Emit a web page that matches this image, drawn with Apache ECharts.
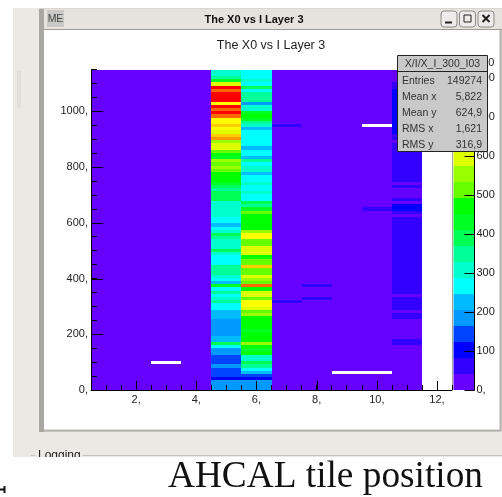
<!DOCTYPE html>
<html><head><meta charset="utf-8">
<style>html,body{margin:0;padding:0;background:#fff}#c{width:502px;height:497px}</style>
<script src="https://cdn.jsdelivr.net/npm/echarts@6/dist/echarts.min.js"></script>
</head><body><div id="c"></div>
<script>
// Histogram rows run from the top of the axis (row 0) to the bottom (row 99).
const rowCount = 100;
const yMax = 1150;
const rowHeight = 11.5;
const baseValue = 20;
const column5 = [310,310,350,430,595, 800,760,800,800,800, 635,800,760,800,760, 635,635,675,635,595,
  675,720,555,595,595, 515,470,430,555,515, 555,515,470,470,470, 430,390,350,390,390,
  390,310,310,310,310, 310,265,265,225,265, 310,390,350,310,310, 310,390,310,265,265,
  265,350,350,350,310, 265,225,430,265,350, 265,310,350,265,265, 225,225,225,185,185,
  185,185,185,225,225, 390,265,185,185,145, 145,145,185,145,145, 145,100,185,185,185];
const column6 = [265,265,265,310,265, 390,265,350,350,350, 185,310,310,430,470, 430,350,310,225,265,
  265,265,265,265,225, 265,265,225,350,265, 310,310,225,265,265, 310,265,265,310,265,
  265,390,350,430,515, 470,470,470,470,470, 555,635,635,515,515, 595,595,595,470,515,
  515,675,515,515,595, 555,515,760,470,595, 595,515,635,635,595, 515,555,470,470,470,
  470,430,470,470,470, 555,470,430,470,310, 310,390,350,265,225, 145,100,185,185,185];
const column11 = [20,20,20,20,60, 60,100,100,100,100, 100,100,100,100,100, 100,100,100,100,100,
  60,60,20,60,60, 60,60,60,60,60, 60,60,60,60,60, 20,60,20,20,20,
  60,20,100,100,60, 20,60,60,60,60, 60,60,60,60,60, 60,60,60,60,60,
  60,60,60,60,60, 60,60,60,60,60, 20,60,60,60,60, 20,60,60,20,20,
  20,20,20,20,60, 60,20,20,20,20, 20,20,20,20,20, 20,20,20,20,20];
const fullColumns = {5: column5, 6: column6, 11: column11};
const faintCells = [[7,17,60],[7,72,60],[8,67,60],[8,71,60],[10,43,60]];
const emptyCells = [[3,91],[9,94],[10,94],[10,17]];
const filledColumns = [1,2,3,4,5,6,7,8,9,10,11];
const xMajorTicks = [2,4,6,8,10,12];
const yMajorTicks = [0,200,400,600,800,1000];
const bandWidth = 41;
const bandColors = ['#6600ff','#3300ff','#0000ff','#0044ff','#0099ff','#00bbff','#00ffff','#00ffcc','#00ff99','#00ff55',
  '#00ff22','#00ff00','#66ff00','#99ff00','#ddff00','#ffff00','#ffcc00','#ff9900','#ff6600','#ff0000'];
const statRows = [['Entries','149274'],['Mean x','5,822'],['Mean y','624,9'],['RMS x','1,621'],['RMS y','316,9']];

const cellData = [];
for (const col of filledColumns) {
  for (let r = 0; r < rowCount; r++) {
    if (emptyCells.some(c => c[0] === col && c[1] === r)) continue;
    const faint = faintCells.find(c => c[0] === col && c[1] === r);
    const v = fullColumns[col] ? fullColumns[col][r] : (faint ? faint[2] : baseValue);
    cellData.push([col, yMax - (r + 1) * rowHeight, yMax - r * rowHeight, v]);
  }
}
const bandData = bandColors.map((c, i) => [i, i * bandWidth, (i + 1) * bandWidth]);
const colorOf = v => bandColors[Math.min(bandColors.length - 1, Math.floor(v / bandWidth))];

function cellItem(params, api) {
  const a = api.coord([api.value(0) - 0.5, api.value(2)]);
  const b = api.coord([api.value(0) + 0.5, api.value(1)]);
  const x0 = Math.round(a[0]), x1 = Math.round(b[0]), y0 = Math.round(a[1]), y1 = Math.round(b[1]);
  return {type:'rect', shape:{x:x0, y:y0, width:x1-x0, height:y1-y0}, style:{fill:colorOf(api.value(3))}};
}
function bandItem(params, api) {
  const a = api.coord([0, api.value(2)]);
  const b = api.coord([1, api.value(1)]);
  const y0 = Math.round(a[1]), y1 = Math.round(b[1]);
  return {type:'rect', shape:{x:a[0], y:y0, width:b[0]-a[0], height:y1-y0}, style:{fill:bandColors[api.value(0)]}};
}
function xTickItem(params, api) {
  const p = api.coord([api.value(0), 0]);
  const x = Math.round(p[0]) + 0.5;
  return {type:'line', shape:{x1:x, y1:p[1], x2:x, y2:p[1]-9}, style:{stroke:'#000', lineWidth:1}};
}
function yTickItem(params, api) {
  const p = api.coord([0.5, api.value(0)]);
  const y = Math.round(p[1]) + 0.5;
  return {type:'line', shape:{x1:p[0], y1:y, x2:p[0]+12, y2:y}, style:{stroke:'#000', lineWidth:1}};
}

const sans = '"Liberation Sans", Arial, sans-serif';
const txt = (x, y, text, size, extra) => ({type:'text', z:extra && extra.z || 1, x, y, silent:true,
  style:Object.assign({text, font:(extra && extra.weight || 'normal')+' '+size+'px '+(extra && extra.family || sans),
    fill:extra && extra.fill || '#222', textAlign:extra && extra.align || 'left', textVerticalAlign:'middle'})});
const box = (x, y, w, h, fill, z, extra) => ({type:'rect', z:z, silent:true, shape:Object.assign({x, y, width:w, height:h}, extra && extra.r ? {r:extra.r} : {}),
  style:{fill, stroke:extra && extra.stroke || 'none', lineWidth:1}});
const seg = (x1, y1, x2, y2, stroke, z, w) => ({type:'line', z:z, silent:true, shape:{x1, y1, x2, y2}, style:{stroke, lineWidth:w || 1}});

const chrome = [
  box(13, 8, 489, 449, '#ece9e4', -10),
  box(39, 8, 463, 424, '#d9d6d1', -9),
  box(39, 9, 5, 423, '#a9a7a2', -8),
  box(44, 9, 458, 20, '#e6e3de', -8),
  seg(44, 29.5, 502, 29.5, '#9d9a95', -7),
  box(44, 30, 456, 400, '#ffffff', -7),
  seg(44, 430.5, 500, 430.5, '#b5b3ae', -6, 2),
  seg(500.5, 30, 500.5, 431, '#b5b3ae', -6, 2),
  box(47, 10, 17, 17, '#c9c9c7', -6),
  txt(55.5, 19, 'ME', 10.5, {z:-5, align:'center', fill:'#444'}),
  txt(254, 20, 'The X0 vs I Layer 3', 11, {z:-5, align:'center', weight:'bold', fill:'#111'}),
  txt(271, 45.5, 'The X0 vs I Layer 3', 12.5, {z:-5, align:'center'}),
  box(441, 11, 16, 16, '#eeeceb', -5, {stroke:'#8c8a86', r:3}),
  box(459.5, 11, 16, 16, '#eeeceb', -5, {stroke:'#8c8a86', r:3}),
  box(478, 11, 16, 16, '#eeeceb', -5, {stroke:'#8c8a86', r:3}),
  seg(445, 22.5, 452, 22.5, '#222', -4, 2),
  box(464, 15, 7, 7, 'none', -4, {stroke:'#222'}),
  seg(482.5, 15, 489.5, 22, '#222', -4, 2),
  seg(489.5, 15, 482.5, 22, '#222', -4, 2),
  box(17, 71, 4, 37, '#e0ded9', -6),
  seg(452.5, 69, 452.5, 390, '#a6a49f', 1, 1),
  txt(476, 63, '800', 11, {z:1, fill:'#222'}),
  seg(31, 455.5, 35, 455.5, '#c4c1bb', -5),
  seg(83, 455.5, 502, 455.5, '#c4c1bb', -5),
  txt(38, 456, 'Logging', 12, {z:-4}),
  box(0, 457, 502, 40, '#ffffff', 50),
  txt(168, 477, 'AHCAL tile position', 37.3, {z:51, family:'"Liberation Serif", "Times New Roman", serif', fill:'#111'}),
  seg(0, 489.5, 4, 489.5, '#111', 51, 2),
  seg(4.5, 486, 4.5, 493, '#111', 51, 2),
  box(397.5, 55.5, 90, 96, '#c9c9c9', 60, {stroke:'#222'}),
  seg(397.5, 71.5, 487.5, 71.5, '#222', 61),
  txt(442.5, 64.5, 'X/I/X_I_300_I03', 10.5, {z:61, align:'center', fill:'#333'})
];
statRows.forEach((r, i) => {
  chrome.push(txt(402, 81 + i * 16, r[0], 10.5, {z:61, fill:'#333'}));
  chrome.push(txt(482, 81 + i * 16, r[1], 10.5, {z:61, align:'right', fill:'#333'}));
});

const axisFont = {color:'#222', fontFamily:sans, fontSize:11};
const chart = echarts.init(document.getElementById('c'), null, {renderer:'canvas'});
chart.setOption({
  animation:false,
  backgroundColor:'#ffffff',
  grid:[
    {left:91, top:69.5, width:361, height:320.5, show:false},
    {left:453.5, top:70, width:21, height:320, show:false}
  ],
  xAxis:[
    {type:'value', gridIndex:0, min:0.5, max:12.5, interval:0.5, z:5, splitLine:{show:false},
      axisLine:{onZero:false, lineStyle:{color:'#000'}},
      axisTick:{inside:true, length:5, lineStyle:{color:'#000'}},
      axisLabel:Object.assign({margin:4, showMinLabel:true, showMaxLabel:true,
        formatter:v => (v % 2 === 0 ? v + ',' : '')}, axisFont)},
    {type:'value', gridIndex:1, min:0, max:1, show:false}
  ],
  yAxis:[
    {type:'value', gridIndex:0, min:0, max:yMax, interval:50, z:5, splitLine:{show:false},
      axisLine:{onZero:false, lineStyle:{color:'#000'}},
      axisTick:{inside:true, length:6, lineStyle:{color:'#000'}},
      axisLabel:Object.assign({margin:3, formatter:v => (v % 200 === 0 ? v + ',' : '')}, axisFont)},
    {type:'value', gridIndex:1, position:'right', min:0, max:bandWidth * bandColors.length, interval:100, z:5, splitLine:{show:false},
      axisLine:{onZero:false, lineStyle:{color:'#000'}},
      axisTick:{inside:true, length:10, lineStyle:{color:'#000'}},
      axisLabel:Object.assign({margin:2, showMaxLabel:false, formatter:v => (v === 0 ? '0,' : String(v))}, axisFont)}
  ],
  series:[
    {type:'custom', coordinateSystem:'cartesian2d', xAxisIndex:0, yAxisIndex:0, z:2, clip:false, silent:true,
      data:cellData, renderItem:cellItem},
    {type:'custom', coordinateSystem:'cartesian2d', xAxisIndex:1, yAxisIndex:1, z:2, clip:false, silent:true,
      data:bandData, renderItem:bandItem},
    {type:'custom', coordinateSystem:'cartesian2d', xAxisIndex:0, yAxisIndex:0, z:6, clip:false, silent:true,
      data:xMajorTicks.map(v => [v]), renderItem:xTickItem},
    {type:'custom', coordinateSystem:'cartesian2d', xAxisIndex:0, yAxisIndex:0, z:6, clip:false, silent:true,
      data:yMajorTicks.map(v => [v]), renderItem:yTickItem}
  ],
  graphic:{elements:chrome}
});
</script></body></html>
